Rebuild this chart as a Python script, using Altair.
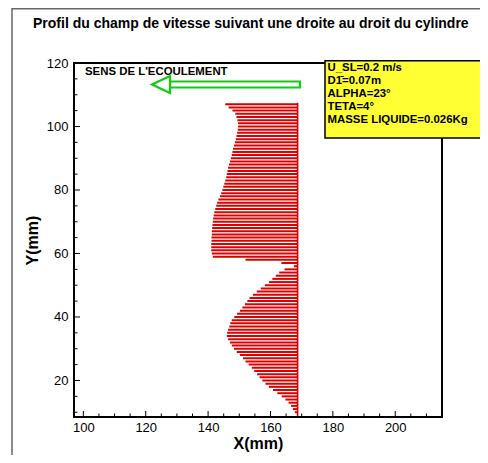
import altair as alt
import pandas as pd

# ---------------- data ----------------
Y_MM = [9, 10, 11, 12, 13, 14, 15, 16, 17, 18, 19, 20, 21, 22, 23, 24, 25, 26, 27, 28,
        29, 30, 31, 32, 33, 34, 35, 36, 37, 38, 39, 40, 41, 42, 43, 44, 45, 46, 47, 48,
        49, 50, 51, 52, 53, 54, 55, 56, 57, 58, 59, 60, 61, 62, 63, 64, 65, 66, 67, 68,
        69, 70, 71, 72, 73, 74, 75, 76, 77, 78, 79, 80, 81, 82, 83, 84, 85, 86, 87, 88,
        89, 90, 91, 92, 93, 94, 95, 96, 97, 98, 99, 100, 101, 102, 103, 104, 105, 106, 107]
X_END = [168.5, 167.8, 167.2, 166.6, 165.8, 164.8, 163.6, 162.2, 160.8, 159.5,
         158.4, 157.4, 156.5, 155.7, 154.8, 154.0, 153.0, 152.0, 151.2, 150.2,
         149.2, 148.3, 147.6, 147.0, 146.4, 146.0, 146.1, 146.4, 146.8, 147.1,
         147.6, 148.4, 149.3, 150.2, 151.0, 151.8, 152.6, 153.3, 154.4, 155.6,
         156.9, 158.2, 159.5, 160.6, 161.7, 162.8, 164.5, 167.5, 163.5, 152.0,
         141.5, 141.2, 141.0, 141.0, 141.0, 141.1, 141.1, 141.2, 141.2, 141.3,
         141.4, 141.5, 141.6, 141.8, 142.0, 142.3, 142.6, 142.9, 143.3, 143.8,
         144.2, 144.6, 144.9, 145.2, 145.5, 145.8, 146.0, 146.2, 146.4, 146.7,
         147.0, 147.3, 147.6, 147.8, 148.0, 148.3, 148.6, 148.9, 149.1, 149.3,
         149.5, 149.6, 149.6, 149.4, 149.1, 148.7, 147.8, 146.6, 145.5]
BASE_X = 168.7
BASE_Y0, BASE_Y1 = 8.5, 107.5

X_MAJOR = [100, 120, 140, 160, 180, 200]
X_MINOR = [105, 110, 115, 125, 130, 135, 145, 150, 155, 165, 170, 175, 185, 190, 195, 205, 210]
Y_MAJOR = [20, 40, 60, 80, 100, 120]
Y_MINOR = [10, 15, 25, 30, 35, 45, 50, 55, 65, 70, 75, 85, 90, 95, 105, 110, 115]

TITLE = "Profil du champ de vitesse suivant une droite au droit du cylindre"
FLOW_LABEL = "SENS DE L'ECOULEMENT"
INFO_LINES = ["U_SL=0.2 m/s", "D1\u0304=0.07m", "ALPHA=23°", "TETA=4°", "MASSE LIQUIDE=0.026Kg"]

# ---------------- layout ----------------
W, H = 368, 354
FONT = "Liberation Sans"
RED = "#dd0000"
GREEN = "#11cc11"

vec = pd.DataFrame({"y": Y_MM, "x1": X_END})
vec["x0"] = BASE_X
base = pd.DataFrame({"x": [BASE_X], "y0": [BASE_Y0], "y1": [BASE_Y1]})
one = pd.DataFrame({"a": [0]})

xsc = alt.Scale(domain=[97, 215], nice=False, zero=False)
ysc = alt.Scale(domain=[8.5, 120], nice=False, zero=False)
XAX = alt.Axis(values=X_MAJOR, ticks=False, domain=False, grid=False, labelPadding=4,
               title="X(mm)", titlePadding=1, labelFontSize=13, titleFontSize=16)
YAX = alt.Axis(values=Y_MAJOR, ticks=False, domain=False, grid=False, labelPadding=6,
               title="Y(mm)", titlePadding=6, labelFontSize=13, titleFontSize=16)

outer = alt.layer(
    alt.Chart(one).mark_rule(color="#666666", strokeWidth=1.5).encode(
        x=alt.value(-62), x2=alt.value(420), y=alt.value(-54.2)),
    alt.Chart(one).mark_rule(color="#666666", strokeWidth=1.5).encode(
        x=alt.value(-62), y=alt.value(-55), y2=alt.value(400)),
)

vectors = alt.Chart(vec).mark_rule(color=RED, strokeWidth=2.0).encode(
    x=alt.X("x0:Q", scale=xsc, axis=XAX),
    x2="x1:Q",
    y=alt.Y("y:Q", scale=ysc, axis=YAX),
    y2="y:Q",
)

baseline = alt.Chart(base).mark_rule(color=RED, strokeWidth=1.6).encode(
    x=alt.X("x:Q", scale=xsc, axis=XAX),
    y=alt.Y("y0:Q", scale=ysc, axis=YAX),
    y2="y1:Q",
)

frame = alt.Chart(one).mark_rect(fill=None, stroke="black", strokeWidth=2).encode(
    x=alt.value(0), x2=alt.value(W), y=alt.value(0), y2=alt.value(H))

xt_major = alt.Chart(pd.DataFrame({"v": X_MAJOR})).mark_rule(color="black", strokeWidth=1).encode(
    x=alt.X("v:Q", scale=xsc, axis=XAX), y=alt.value(H), y2=alt.value(H - 6))
xt_minor = alt.Chart(pd.DataFrame({"v": X_MINOR})).mark_rule(color="black", strokeWidth=1).encode(
    x=alt.X("v:Q", scale=xsc, axis=XAX), y=alt.value(H), y2=alt.value(H - 3.5))
yt_major = alt.Chart(pd.DataFrame({"v": Y_MAJOR})).mark_rule(color="black", strokeWidth=1).encode(
    y=alt.Y("v:Q", scale=ysc, axis=YAX), x=alt.value(0), x2=alt.value(6))
yt_minor = alt.Chart(pd.DataFrame({"v": Y_MINOR})).mark_rule(color="black", strokeWidth=1).encode(
    y=alt.Y("v:Q", scale=ysc, axis=YAX), x=alt.value(0), x2=alt.value(3.5))

title = alt.Chart(one).mark_text(text=TITLE, font=FONT, fontSize=14, fontWeight="bold",
                                 align="left", baseline="alphabetic", color="black").encode(
    x=alt.value(-41), y=alt.value(-35))

flow_text = alt.Chart(one).mark_text(text=FLOW_LABEL, font=FONT, fontSize=11.4, fontWeight="bold",
                                     align="left", baseline="alphabetic", color="black").encode(
    x=alt.value(11), y=alt.value(12))
shaft = alt.Chart(one).mark_rect(fill="white", stroke=GREEN, strokeWidth=2.2).encode(
    x=alt.value(96), x2=alt.value(226), y=alt.value(18.5), y2=alt.value(24.5))
head = alt.Chart(one).mark_point(shape="M-1,0L1,-0.95L1,0.95Z", size=324, filled=True,
                                 fill="white", stroke=GREEN, strokeWidth=2.2, opacity=1).encode(
    x=alt.value(87), y=alt.value(21.5))

box = alt.Chart(one).mark_rect(fill="#ffff33", stroke="black", strokeWidth=1.5).encode(
    x=alt.value(251), x2=alt.value(430), y=alt.value(-2.3), y2=alt.value(75))
info = alt.Chart(one).mark_text(text=INFO_LINES, font=FONT, fontSize=11.4, fontWeight="bold",
                                lineHeight=13, align="left", baseline="alphabetic",
                                color="black").encode(
    x=alt.value(253.5), y=alt.value(8))

chart = alt.layer(
    outer, vectors, baseline, frame, xt_major, xt_minor, yt_major, yt_minor,
    title, flow_text, shaft, head, box, info,
).properties(
    width=W, height=H,
    autosize=alt.AutoSizeParams(type="none"),
    padding={"left": 66, "top": 55, "right": 38, "bottom": 38},
).configure_view(stroke=None).configure_axis(
    labelFont=FONT, titleFont=FONT, labelColor="black", titleColor="black",
    titleFontWeight="bold",
)

chart.save("out.html", embed_options={"renderer": "svg", "actions": False})
